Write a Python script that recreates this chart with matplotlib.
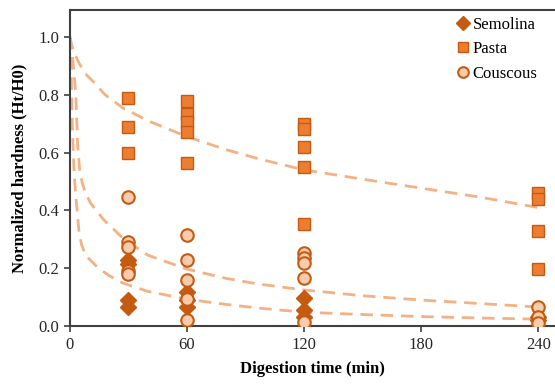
import numpy as np
import matplotlib
matplotlib.use("Agg")
import matplotlib.pyplot as plt

plt.rcParams['font.family'] = ['Liberation Serif', 'DejaVu Serif']

# ---------------- data ----------------
sem_x = [30, 30, 30, 30, 60, 60, 60, 120, 120, 120, 240, 240]
sem_y = [0.228, 0.215, 0.09, 0.066, 0.118, 0.09, 0.066, 0.097, 0.055, 0.03, 0.03, 0.02]

pasta_x = [30, 30, 30, 60, 60, 60, 60, 60, 120, 120, 120, 120, 120, 240, 240, 240, 240]
pasta_y = [0.79, 0.69, 0.60, 0.78, 0.735, 0.705, 0.67, 0.565,
           0.70, 0.68, 0.62, 0.55, 0.353, 0.46, 0.44, 0.33, 0.197]

cous_x = [30, 30, 30, 30, 30, 60, 60, 60, 60, 60, 120, 120, 120, 120, 120, 240, 240, 240]
cous_y = [0.447, 0.29, 0.275, 0.19, 0.18, 0.315, 0.228, 0.159, 0.093, 0.02,
          0.252, 0.235, 0.218, 0.166, 0.014, 0.065, 0.03, 0.01]

# fitted trend lines
fit_hi_x = [0, 1, 2.5, 5, 8, 12, 18, 27, 40, 60, 80, 97, 120, 150, 180, 210, 240]
fit_hi_y = [1.0, 0.97, 0.94, 0.905, 0.872, 0.845, 0.8, 0.755, 0.71, 0.655, 0.61,
            0.578, 0.54, 0.508, 0.477, 0.446, 0.41]

fit_mid_x = [0, 1.5, 3, 4, 5, 6.3, 8, 10.6, 17.4, 27, 40, 60, 80, 97, 120, 150, 180, 210, 240]
fit_mid_y = [1.0, 0.92, 0.8, 0.62, 0.54, 0.495, 0.46, 0.425, 0.367, 0.305, 0.245,
             0.197, 0.165, 0.145, 0.125, 0.105, 0.09, 0.078, 0.066]

fit_lo_x = [0, 0.6, 1.2, 2, 3, 4.6, 6, 8, 14, 20, 27, 40, 60, 80, 97, 120, 150, 180, 210, 240]
fit_lo_y = [1.0, 0.9, 0.7, 0.55, 0.45, 0.33, 0.28, 0.245, 0.204, 0.175, 0.149, 0.12,
            0.093, 0.075, 0.062, 0.048, 0.04, 0.033, 0.028, 0.024]

x_ticks = [0, 60, 120, 180, 240]
y_ticks = [0.0, 0.2, 0.4, 0.6, 0.8, 1.0]

# ---------------- figure ----------------
fig = plt.figure(figsize=(5.55, 3.85), dpi=100)
ax = fig.add_axes([0.126, 0.153, 0.874, 0.821])

fit_color = '#F4B183'
for fx, fy in [(fit_hi_x, fit_hi_y), (fit_mid_x, fit_mid_y), (fit_lo_x, fit_lo_y)]:
    ax.plot(fx, fy, color=fit_color, lw=2, dashes=(4.5, 2.8), zorder=2)

ax.plot(sem_x, sem_y, 'D', ms=8, color='#C55A11', mec='#C55A11', ls='none',
        label='Semolina', zorder=3)
ax.plot(pasta_x, pasta_y, 's', ms=9, color='#ED7D31', mec='#C55A11', mew=1,
        ls='none', label='Pasta', zorder=4)
ax.plot(cous_x, cous_y, 'o', ms=9, color='#F8CBAD', mec='#C55A11', mew=1.5,
        ls='none', label='Couscous', zorder=5)

ax.set_xlim(0, 248.5)
ax.set_ylim(0, 1.093)
ax.set_xticks(x_ticks)
ax.set_yticks(y_ticks)
ax.set_yticklabels(['%.1f' % v for v in y_ticks])
ax.tick_params(labelsize=12, colors='#404040', length=4, width=1.2, labelcolor='#262626')

for s in ['left', 'bottom', 'top']:
    ax.spines[s].set_color('#404040')
    ax.spines[s].set_linewidth(1.5)
ax.spines['right'].set_visible(False)

ax.set_xlabel('Digestion time (min)', fontsize=12, fontweight='bold', labelpad=6)
ax.set_ylabel('Normalized hardness (Ht/H0)', fontsize=12, fontweight='bold', labelpad=8)

ax.legend(loc='upper right', bbox_to_anchor=(0.985, 1.01), frameon=False, fontsize=12,
          handletextpad=0.0, handlelength=1.2, labelspacing=0.5, borderaxespad=0.2,
          markerscale=0.85)

fig.savefig('out.png', dpi=100)
